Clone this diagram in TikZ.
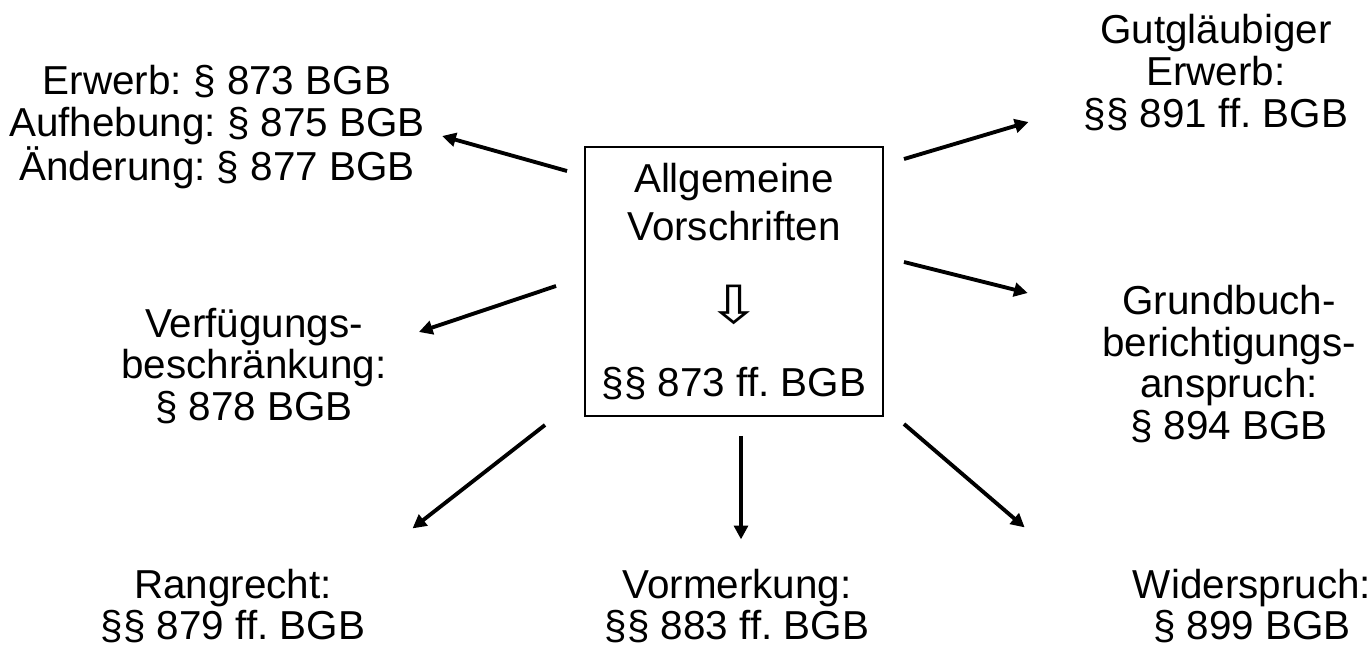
\documentclass[tikz,border=0pt]{standalone}
\usepackage{fontspec}
\setmainfont{Liberation Sans}
\newfontfamily\symfont{DejaVu Sans}
\usetikzlibrary{arrows.meta,calc}
\frenchspacing

\begin{document}
\begin{tikzpicture}[
    x=0.02cm, y=-0.02cm,
    every node/.style={font=\fontsize{23}{23.8}\selectfont},
    norm/.style={align=center, inner sep=0pt},
    core/.style={draw, line width=1.15pt, align=center, inner sep=0pt, minimum width=5.96cm, minimum height=5.38cm, font=\fontsize{23}{27.2}\selectfont},
    flow/.style={-{Triangle[length=7.8pt,width=7.8pt]}, line width=2.2pt}
]
\useasboundingbox (0,0) rectangle (1369,652);
\node[core] (core) at (734,281.5) {Allgemeine\\Vorschriften\\[20.4pt]{\symfont\fontsize{30}{27.2}\selectfont\scalebox{1.25}[1]{⇩}}\\[14.2pt]§§ 873 ff. BGB};
\node[norm] (erwerb) at (217,127) {Erwerb: § 873 BGB\\Aufhebung: § 875 BGB\\Änderung: § 877 BGB};
\node[norm] (verfuegung) at (254,366) {Verfügungs-\\beschränkung:\\§ 878 BGB};
\node[norm] (rang) at (233,606) {Rangrecht:\\§§ 879 ff. BGB};
\node[norm] (vormerkung) at (737,606) {Vormerkung:\\§§ 883 ff. BGB};
\node[norm] (widerspruch) at (1252,606) {Widerspruch:\\§ 899 BGB};
\node[norm] (berichtigung) at (1229,364) {Grundbuch-\\berichtigungs-\\anspruch:\\§ 894 BGB};
\node[norm] (gutglaube) at (1216,72.5) {Gutgläubiger\\Erwerb:\\§§ 891 ff. BGB};
% Pfeile vom Kasten nach aussen
\draw[flow] ($(core.north west)+(-17,25)$) -- ($(erwerb.east)+(17,9)$);
\draw[flow] ($(core.west)+(-28,4.5)$) -- ($(verfuegung.east)+(32,-34)$);
\draw[flow] ($(core.south west)+(-39,8)$) -- ($(rang.north east)+(47,-40)$);
\draw[flow] ($(core.south)+(7,19)$) -- ($(vormerkung.north)+(4,-29)$);
\draw[flow] ($(core.south east)+(20,7)$) -- ($(widerspruch.north west)+(-108,-41)$);
\draw[flow] ($(core.east)+(20,-19.5)$) -- ($(berichtigung.west)+(-74,-71)$);
\draw[flow] ($(core.north east)+(20,13)$) -- ($(gutglaube.south west)+(-55,-9)$);
\end{tikzpicture}
\end{document}
